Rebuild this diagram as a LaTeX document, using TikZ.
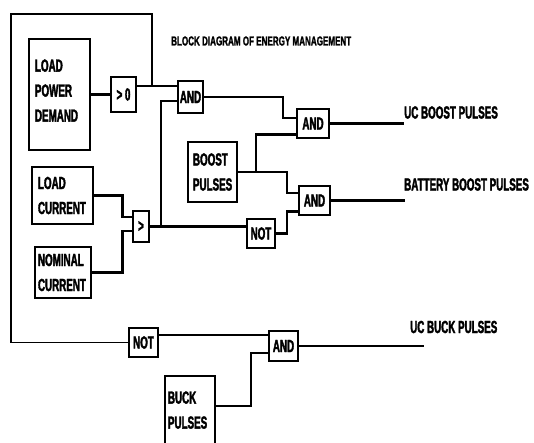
\documentclass[tikz,border=0pt]{standalone}
\usepackage{fontspec}
\newfontfamily\nar{Liberation Sans}[FakeStretch=0.56,BoldFeatures={FakeBold=2}]
\newfontfamily\nartitle{Liberation Sans}[FakeStretch=0.62,BoldFeatures={FakeBold=1.5}]
\begin{document}
\begin{tikzpicture}[x=1pt,y=-1pt,
  every node/.style={font=\nar\bfseries\fontsize{17.5}{25}\selectfont},
  blk/.style={draw,line width=2.5pt,align=left,inner ysep=0pt},
  gate/.style={draw,line width=2.5pt,inner sep=0pt},
  wire/.style={line width=2.5pt},
  thin/.style={line width=1.8pt},
  lbl/.style={anchor=west,inner sep=0pt}]
\useasboundingbox (0,0) rectangle (534,443);
% blocks
\node[blk,inner xsep=6pt,text width=49pt,minimum height=111pt,text depth=58pt] (lpd) at (59.5,94.5) {LOAD\\POWER\\DEMAND};
\node[blk,inner xsep=5pt,text width=39pt,minimum height=60pt] (boost) at (212.5,172) {BOOST\\PULSES};
\node[blk,inner xsep=6pt,text width=49pt,minimum height=57pt] (lc) at (62.5,195.5) {LOAD\\CURRENT};
\node[blk,inner xsep=3pt,text width=50pt,minimum height=51pt] (nc) at (63,272.5) {NOMINAL\\CURRENT};
\node[blk,inner xsep=3pt,text width=44pt,minimum height=72pt,text depth=29pt] (buck) at (190,412) {BUCK\\PULSES};
% gates
\node[gate,minimum width=25pt,minimum height=35pt] (gt0) at (123.5,94.5) {> 0};
\node[gate,minimum width=25pt,minimum height=32pt] (and1) at (190.5,97) {AND};
\node[gate,minimum width=32pt,minimum height=29pt] (and2) at (313,123.5) {AND};
\node[gate,minimum width=31pt,minimum height=29pt] (and3) at (314.5,200.5) {AND};
\node[gate,minimum width=28pt,minimum height=29pt] (not1) at (261,233.5) {NOT};
\node[gate,minimum width=16pt,minimum height=31pt] (cmp) at (141,226.5) {>};
\node[gate,minimum width=29pt,minimum height=29pt] (not2) at (143.5,342.5) {NOT};
\node[gate,minimum width=29pt,minimum height=30pt] (and4) at (283.5,346) {AND};
% labels
\node[lbl,font=\nartitle\bfseries\fontsize{13}{15}\selectfont] (title) at (171,41) {BLOCK DIAGRAM OF ENERGY MANAGEMENT};
\node[lbl] (l1) at (404,112.5) {UC BOOST PULSES};
\node[lbl] (l2) at (404,184.5) {BATTERY BOOST PULSES};
\node[lbl] (l3) at (410,327) {UC BUCK PULSES};
% helper coordinates
\coordinate (a1in1) at ([yshift=11pt]and1.west);
\coordinate (a1in2) at ([yshift=-4pt]and1.west);
\coordinate (a2in1) at ([yshift=5.5pt]and2.west);
\coordinate (a2in2) at ([yshift=-11pt]and2.west);
\coordinate (a3in1) at ([yshift=7.5pt]and3.west);
\coordinate (a3in2) at ([yshift=-11pt]and3.west);
\coordinate (cin1) at ([yshift=9.5pt]cmp.west);
\coordinate (cin2) at ([yshift=-4.5pt]cmp.west);
\coordinate (a4in1) at ([yshift=11pt]and4.west);
\coordinate (a4in2) at ([yshift=-7pt]and4.west);
\coordinate (j1) at (152,0);
\coordinate (loopTL) at (11,14);
\coordinate (b1) at (283,0);
\coordinate (j2) at (256,0);
\coordinate (b2) at (287,0);
\coordinate (b3) at (161,0);
\coordinate (b4) at (122.5,0);
\coordinate (b5) at (251,0);
\coordinate (o1) at (404,0);
\coordinate (o2) at (405,0);
\coordinate (o3) at (424,0);
% wires
\draw[wire] (gt0.west) -- (gt0.west -| lpd.east);
\draw[wire] (a1in1) -- (a1in1 -| gt0.east);
\draw[thin] (j1 |- a1in1) |- (loopTL) |- (not2.west);
\draw[wire] (and1.east) -- (and1.east -| b1) |- (a2in1);
\draw[wire] (and2.east) -- (and2.east -| o1);
\draw[wire] (j2 |- boost.east) |- (a2in2);
\draw[wire] (boost.east) -- (boost.east -| b2) |- (a3in1);
\draw[wire] (and3.east) -- (and3.east -| o2);
\draw[wire] (not1.east) -- (not1.east -| b2) |- (a3in2);
\draw[wire] (cmp.east) -- (cmp.east -| not1.west);
\draw[wire] (a1in2) -| (b3 |- cmp.east);
\draw[wire] (lc.east) -| (b4 |- cin1) -- (cin1);
\draw[wire] (nc.east) -| (b4 |- cin2) -- (cin2);
\draw[wire] (a4in1) -- (a4in1 -| not2.east);
\draw[wire] (and4.east) -- (and4.east -| o3);
\draw[wire] ([yshift=6pt]buck.east) -| (b5 |- a4in2) -- (a4in2);
\end{tikzpicture}
\end{document}
